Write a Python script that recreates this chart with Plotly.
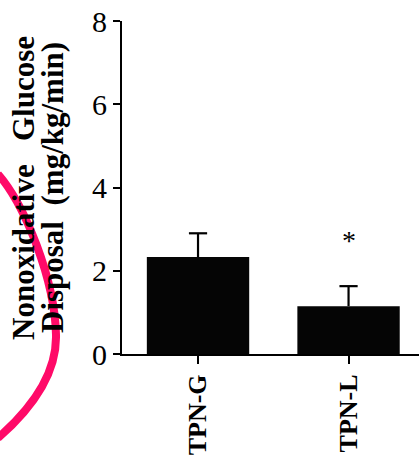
import plotly.graph_objects as go

categories = ["TPN-G", "TPN-L"]
means = [2.33, 1.15]
sem = [0.57, 0.48]
y_ticks = [0, 2, 4, 6, 8]
sig_y = 2.8

W, H = 419, 459
L, R, T, B = 122, 0, 21, 105
pw, ph = W - L - R, H - T - B

def px(x, y):
    return (x - L) / pw, (H - B - y) / ph

font = "Liberation Serif, Times New Roman, serif"

fig = go.Figure()
fig.add_trace(go.Bar(
    x=categories, y=means, width=0.68,
    marker=dict(color="#050505", line=dict(width=0)),
    error_y=dict(type="data", array=sem, arrayminus=[0, 0], symmetric=False,
                 color="black", thickness=2.2, width=0),
))
# error bar caps (top only)
fig.add_trace(go.Scatter(
    x=categories, y=[m + s for m, s in zip(means, sem)], mode="markers",
    marker=dict(symbol="line-ew", size=13, line=dict(width=2.2, color="black")),
    hoverinfo="skip",
))

fig.add_annotation(x=categories[1], y=sig_y, xref="x", yref="y", text="*",
                   showarrow=False, font=dict(family=font, size=28, color="black"),
                   yanchor="middle", xanchor="center", yshift=-3)

x1, y1 = px(23, 188)
x2, y2 = px(52, 188)
nb3 = "\u00a0" * 3
nb2 = "\u00a0" * 2
fig.add_annotation(x=x1, y=y1, xref="paper", yref="paper",
                   text=f"<b>Nonoxidative{nb3}Glucose</b>", textangle=-90,
                   showarrow=False, xanchor="center", yanchor="middle",
                   font=dict(family=font, size=31, color="black"))
fig.add_annotation(x=x2, y=y2, xref="paper", yref="paper",
                   text=f"<b>Disposal{nb2}(mg/kg/min)</b>", textangle=-90,
                   showarrow=False, xanchor="center", yanchor="middle",
                   font=dict(family=font, size=31, color="black"))

# pink hand-drawn mark on the scan
def P(a, b):
    q = px(a, b)
    return f"{q[0]:.4f},{q[1]:.4f}"
path = (f"M {P(-2,174)} C {P(25,205)} {P(55,280)} {P(56,335)} "
        f"C {P(57,375)} {P(30,410)} {P(-2,438)}")
fig.add_shape(type="path", path=path, xref="paper", yref="paper",
              line=dict(color="#ff0a68", width=8), layer="above")

fig.update_layout(
    width=W, height=H,
    margin=dict(l=L, r=R, t=T, b=B, pad=0),
    paper_bgcolor="white", plot_bgcolor="white",
    showlegend=False,
    font=dict(family=font, color="black"),
    xaxis=dict(range=[-0.505, 1.468], showline=True, linecolor="black", linewidth=2,
               ticks="outside", ticklen=8, tickwidth=2, tickcolor="black",
               tickangle=-90, showgrid=False, zeroline=False,
               tickfont=dict(family=font, size=26, color="black"),
               tickprefix="<b>", ticksuffix="</b>"),
    yaxis=dict(range=[0, 8], tickvals=y_ticks, showline=True, linecolor="black", linewidth=2,
               ticks="outside", ticklen=7, tickwidth=2, tickcolor="black",
               showgrid=False, zeroline=False,
               tickfont=dict(family=font, size=30, color="black")),
)

fig.write_html("out.html", config={"displayModeBar": False},
               post_script="document.body.style.margin='0';document.body.style.overflow='hidden';")
